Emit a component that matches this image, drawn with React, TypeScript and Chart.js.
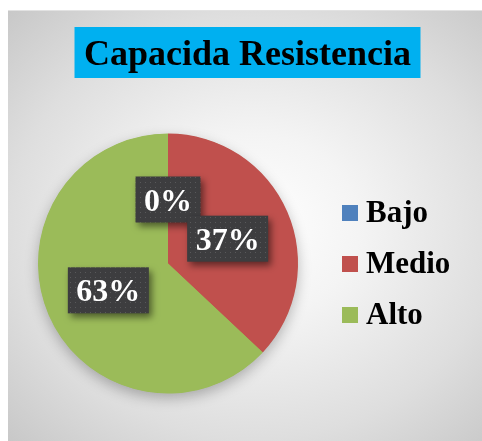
import React, { useEffect, useRef } from "react";
import { Chart, registerables } from "chart.js";

Chart.register(...registerables);

const title = "Capacida Resistencia";
const categories = ["Bajo", "Medio", "Alto"];
const values = [0, 37, 63];
const colors = ["#4F81BD", "#C0504D", "#9BBB59"];

const SERIF = '"Liberation Serif", "Times New Roman", serif';

function makePattern(ctx: CanvasRenderingContext2D) {
  const c = document.createElement("canvas");
  c.width = 5;
  c.height = 5;
  const p = c.getContext("2d")!;
  p.fillStyle = "#3d3d3f";
  p.fillRect(0, 0, 5, 5);
  p.fillStyle = "#58585a";
  p.fillRect(2, 2, 1, 1);
  return ctx.createPattern(c, "repeat");
}

const pieShadow = {
  id: "pieShadow",
  beforeDatasetsDraw(chart: any) {
    const meta = chart.getDatasetMeta(0);
    const arc = meta.data[0];
    if (!arc) return;
    const ctx = chart.ctx;
    ctx.save();
    ctx.shadowColor = "rgba(0,0,0,0.28)";
    ctx.shadowBlur = 14;
    ctx.shadowOffsetY = 5;
    ctx.fillStyle = colors[2];
    ctx.beginPath();
    ctx.arc(arc.x, arc.y, arc.outerRadius - 0.5, 0, Math.PI * 2);
    ctx.fill();
    ctx.restore();
  },
};

const decorations = {
  id: "decorations",
  afterDraw(chart: any) {
    const ctx: CanvasRenderingContext2D = chart.ctx;
    // Title box
    ctx.save();
    ctx.font = `bold 36px ${SERIF}`;
    const tw = ctx.measureText(title).width;
    const tcx = 239.5;
    const bw = tw + 19;
    ctx.fillStyle = "#00B0F0";
    ctx.fillRect(tcx - bw / 2, 17, bw, 51);
    ctx.fillStyle = "#000";
    ctx.textAlign = "center";
    ctx.textBaseline = "alphabetic";
    ctx.fillText(title, tcx, 55);
    ctx.restore();

    // Data labels
    const meta = chart.getDatasetMeta(0);
    const total = values.reduce((a, b) => a + b, 0);
    const pattern = makePattern(ctx);
    meta.data.forEach((arc: any, i: number) => {
      const pos = arc.tooltipPosition();
      const txt = Math.round((values[i] / total) * 100) + "%";
      ctx.save();
      ctx.font = `bold 32px ${SERIF}`;
      const w = ctx.measureText(txt).width + 17;
      const h = 46;
      const x = pos.x - w / 2;
      const y = pos.y - h / 2 + 1;
      ctx.shadowColor = "rgba(0,0,0,0.5)";
      ctx.shadowBlur = 7;
      ctx.shadowOffsetX = 3;
      ctx.shadowOffsetY = 4;
      ctx.fillStyle = pattern || "#3d3d3f";
      ctx.fillRect(x, y, w, h);
      ctx.shadowColor = "transparent";
      ctx.fillStyle = "#ffffff";
      ctx.textAlign = "center";
      ctx.textBaseline = "alphabetic";
      ctx.fillText(txt, pos.x, y + 34);
      ctx.restore();
    });

    // Legend
    ctx.save();
    ctx.font = `bold 31px ${SERIF}`;
    categories.forEach((c, i) => {
      const sy = 195 + i * 51;
      ctx.fillStyle = colors[i];
      ctx.fillRect(334, sy, 16, 16);
      ctx.fillStyle = "#000";
      ctx.textAlign = "left";
      ctx.textBaseline = "alphabetic";
      ctx.fillText(c, 358, sy + 17);
    });
    ctx.restore();
  },
};

export default function App() {
  const ref = useRef<HTMLCanvasElement>(null);
  useEffect(() => {
    if (!ref.current) return;
    const chart = new Chart(ref.current, {
      type: "pie",
      data: {
        labels: categories,
        datasets: [
          {
            data: values,
            backgroundColor: colors,
            borderWidth: 0,
          },
        ],
      },
      options: {
        responsive: false,
        animation: false,
        layout: { padding: { left: 30, top: 123.5, right: 184, bottom: 47.5 } },
        plugins: {
          legend: { display: false },
          title: { display: false },
          tooltip: { enabled: false },
        },
      },
      plugins: [pieShadow, decorations],
    });
    return () => chart.destroy();
  }, []);
  return (
    <div
      style={{
        position: "fixed",
        left: 8,
        top: 10,
        width: 474,
        height: 431,
        background:
          "radial-gradient(ellipse at 52% 50%, #ffffff 0%, #f4f4f4 30%, #dedede 70%, #c8c8c8 100%)",
        borderTop: "1px solid #e2e2e2",
        boxSizing: "border-box",
      }}
    >
      <canvas
        ref={ref}
        width={474}
        height={431}
        style={{ position: "absolute", left: 0, top: -1, display: "block" }}
      />
    </div>
  );
}
